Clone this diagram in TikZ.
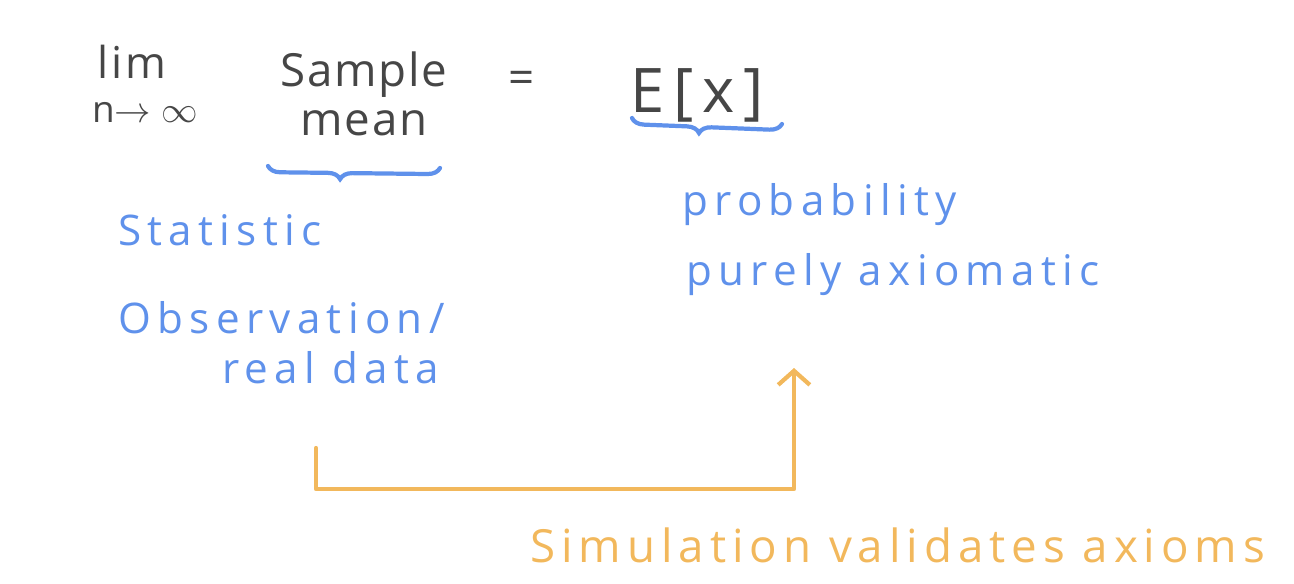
\documentclass[tikz,border=0pt]{standalone}
\usepackage{fontspec}
\setmainfont{Open Sans}
\usetikzlibrary{decorations.pathreplacing,arrows.meta}
\definecolor{penblue}{RGB}{95,145,235}
\definecolor{penorange}{RGB}{242,184,92}
\definecolor{pengray}{RGB}{70,70,70}
\tikzset{
  ink/.style={text=pengray, inner sep=0pt},
  note/.style={text=penblue, inner sep=0pt, anchor=west,
    font=\fontsize{24}{26}\selectfont\addfontfeature{LetterSpace=15}},
  memo/.style={text=penorange, inner sep=0pt},
  curly/.style={draw=penblue, line width=2.4pt, line cap=round,
    decorate, decoration={brace, mirror, amplitude=7pt}},
  loop/.style={draw=penorange, line width=2.4pt, line cap=round,
    line join=round, -{Straight Barb[length=8pt,width=18pt,line width=2.4pt]}}
}
\begin{document}
\begin{tikzpicture}[x=0.02cm, y=-0.02cm]
\useasboundingbox (0,0) rectangle (1294,584);
% formula
\node[ink, font=\fontsize{25}{27}\selectfont\addfontfeature{LetterSpace=6}] (lim) at (132,62) {lim};
\node[ink, font=\fontsize{21}{22}\selectfont] (limsub) at (145,112) {n$\to\infty$};
\node[ink, font=\fontsize{26}{28}\selectfont\addfontfeature{LetterSpace=4}, align=center] (mean) at (364,94) {Sample\\[0pt]mean};
\node[ink, font=\fontsize{26}{28}\selectfont] (eq) at (522,82) {=};
\node[ink, font=\fontsize{35}{36}\selectfont\addfontfeature{LetterSpace=14}] (ex) at (697,95) {E[x]};
% braces
\coordinate (b1l) at (268,166);
\coordinate (b1r) at (440,168);
\coordinate (b2l) at (632,118);
\coordinate (b2r) at (782,124);
\draw[curly, decoration={aspect=0.42}] (b1l) -- (b1r);
\draw[curly, decoration={aspect=0.45}] (b2l) -- (b2r);
% labels
\node[note] (stat) at (118,230) {Statistic};
\node[note] (obs) at (118,318) {Observation/};
\node[note] (real) at (222,368) {real data};
\node[note] (prob) at (682,205) {probability};
\node[note] (axio) at (686,275) {purely axiomatic};
\node[memo, font=\fontsize{26}{28}\selectfont\addfontfeature{LetterSpace=13}, anchor=west] (sim) at (530,545) {Simulation validates axioms};
% arrow
\coordinate (from) at (316,448);
\coordinate (to) at (794,368);
\draw[loop] (from) |- (to |- 0,489) -- (to);
\end{tikzpicture}
\end{document}
